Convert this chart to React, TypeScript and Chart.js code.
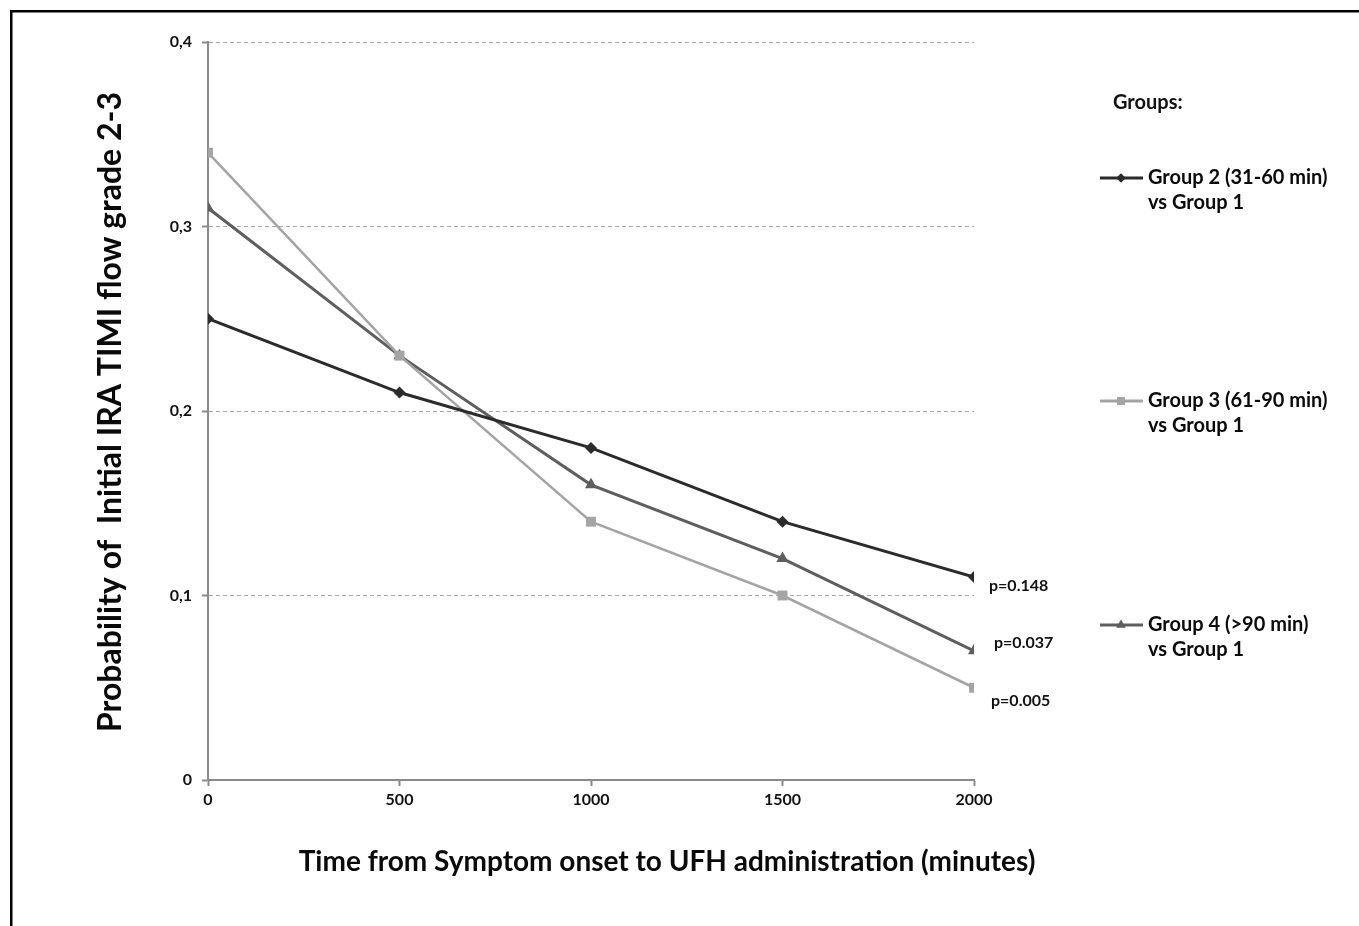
import React, { useEffect, useRef } from "react";
import { Chart, registerables } from "chart.js";

Chart.register(...registerables);

const xValues = [0, 500, 1000, 1500, 2000];
const group2 = [0.25, 0.21, 0.18, 0.14, 0.11];
const group3 = [0.34, 0.23, 0.14, 0.1, 0.05];
const group4 = [0.31, 0.23, 0.16, 0.12, 0.07];
const seriesNames = ["Group 2 (31-60 min)", "Group 3 (61-90 min)", "Group 4 (>90 min)"];
const seriesSubtitle = "vs Group 1";
const pValues = ["p=0.148", "p=0.005", "p=0.037"];
const xTickLabels = ["0", "500", "1000", "1500", "2000"];
const yTickLabels = ["0", "0,1", "0,2", "0,3", "0,4"];
const legendTitle = "Groups:";
const xTitle = "Time from Symptom onset to UFH administration (minutes)";
const yTitle = "Probability of  Initial IRA TIMI flow grade 2-3";

const FONT = 'Lato, "Open Sans", sans-serif';
const colors = ["#2b2b2b", "#a4a4a4", "#5e5e5e"];
const styles = ["rectRot", "rect", "triangle"];
const radii = [6, 7, 7];
const widths = [3, 2.5, 3];
// label offsets relative to last point
const pOffsets = [
  [15, 9],
  [17, 13],
  [20, -8],
];
const legendY = [178, 401, 625];

function drawMarker(ctx: CanvasRenderingContext2D, style: string, x: number, y: number, r: number) {
  ctx.beginPath();
  if (style === "rectRot") {
    ctx.moveTo(x, y - r);
    ctx.lineTo(x + r, y);
    ctx.lineTo(x, y + r);
    ctx.lineTo(x - r, y);
  } else if (style === "rect") {
    const s = r * Math.SQRT1_2;
    ctx.rect(x - s, y - s, 2 * s, 2 * s);
  } else {
    ctx.moveTo(x, y - r);
    ctx.lineTo(x + r * 0.87, y + r * 0.5);
    ctx.lineTo(x - r * 0.87, y + r * 0.5);
  }
  ctx.closePath();
  ctx.fill();
}

const decorPlugin = {
  id: "decor",
  afterDraw(chart: any) {
    const ctx: CanvasRenderingContext2D = chart.ctx;
    ctx.save();
    // frame
    ctx.fillStyle = "#000";
    ctx.fillRect(10, 10, 1349, 2.5);
    ctx.fillRect(10, 10, 2.5, 916);

    // axis titles
    ctx.fillStyle = "#0a0a0a";
    ctx.font = `bold 28px ${FONT}`;
    ctx.textAlign = "center";
    ctx.textBaseline = "middle";
    ctx.fillText(xTitle, 667, 862);
    ctx.save();
    ctx.font = `bold 32px ${FONT}`;
    ctx.translate(111, 412);
    ctx.rotate(-Math.PI / 2);
    ctx.fillText(yTitle, 0, 0);
    ctx.restore();

    // p-values
    ctx.font = `bold 16px ${FONT}`;
    ctx.textAlign = "left";
    ctx.fillStyle = "#111";
    chart.data.datasets.forEach((ds: any, i: number) => {
      const meta = chart.getDatasetMeta(i);
      const pt = meta.data[meta.data.length - 1];
      ctx.fillText(pValues[i], pt.x + pOffsets[i][0], pt.y + pOffsets[i][1]);
    });

    // legend
    ctx.font = `bold 20px ${FONT}`;
    ctx.fillText(legendTitle, 1113, 103);
    ctx.font = `bold 20px ${FONT}`;
    seriesNames.forEach((name, i) => {
      const y = legendY[i];
      ctx.strokeStyle = colors[i];
      ctx.lineWidth = 3;
      ctx.beginPath();
      ctx.moveTo(1100, y);
      ctx.lineTo(1143, y);
      ctx.stroke();
      ctx.fillStyle = colors[i];
      drawMarker(ctx, styles[i], 1121, y, radii[i] * 0.8);
      ctx.fillStyle = "#0a0a0a";
      ctx.fillText(name, 1148, y);
      ctx.fillText(seriesSubtitle, 1148, y + 25);
    });
    ctx.restore();
  },
};

export default function App() {
  const ref = useRef<HTMLCanvasElement>(null);
  useEffect(() => {
    if (!ref.current) return;
    const series = [group2, group3, group4];
    const chart = new Chart(ref.current, {
      type: "line",
      data: {
        datasets: series.map((vals, i) => ({
          label: seriesNames[i],
          data: vals.map((v, j) => ({ x: xValues[j], y: v })),
          borderColor: colors[i],
          backgroundColor: colors[i],
          borderWidth: widths[i],
          pointStyle: styles[i] as any,
          pointRadius: radii[i],
          pointBorderWidth: 0,
          pointBackgroundColor: colors[i],
          tension: 0,
        })),
      },
      options: {
        animation: false,
        responsive: false,
        devicePixelRatio: 1,
        layout: { padding: { left: 0, top: 42, right: 385, bottom: 46 } },
        plugins: { legend: { display: false }, tooltip: { enabled: false } },
        scales: {
          x: {
            type: "linear",
            min: 0,
            max: 2000,
            afterFit: (s: any) => {
              s.height = 100;
            },
            ticks: {
              stepSize: 500,
              padding: 4,
              color: "#111",
              font: { family: FONT, size: 16, weight: "bold" },
              maxRotation: 0,
              callback: (_v: any, idx: number) => xTickLabels[idx],
            },
            grid: {
              drawOnChartArea: false,
              drawTicks: true,
              tickLength: 6,
              tickColor: "#8a8a8a",
              tickWidth: 2,
            },
            border: { display: true, color: "#8a8a8a", width: 2 },
          },
          y: {
            type: "linear",
            min: 0,
            max: 0.4,
            afterFit: (s: any) => {
              s.width = 208;
            },
            ticks: {
              stepSize: 0.1,
              padding: 10,
              color: "#111",
              font: { family: FONT, size: 16, weight: "bold" },
              callback: (_v: any, idx: number) => yTickLabels[idx],
            },
            grid: {
              drawOnChartArea: true,
              color: (c: any) => (c.tick && c.tick.value === 0 ? "rgba(0,0,0,0)" : "#a8a8a8"),
              lineWidth: 1,
              tickLength: 6,
              tickColor: "#8a8a8a",
              tickWidth: 2,
            },
            border: { display: true, color: "#8a8a8a", width: 2, dash: [4, 3] },
          },
        },
      },
      plugins: [decorPlugin],
    });
    return () => chart.destroy();
  }, []);
  return (
    <div style={{ position: "absolute", left: 0, top: 0, width: 1359, height: 926, background: "#fff" }}>
      <canvas ref={ref} width={1359} height={926} />
    </div>
  );
}
